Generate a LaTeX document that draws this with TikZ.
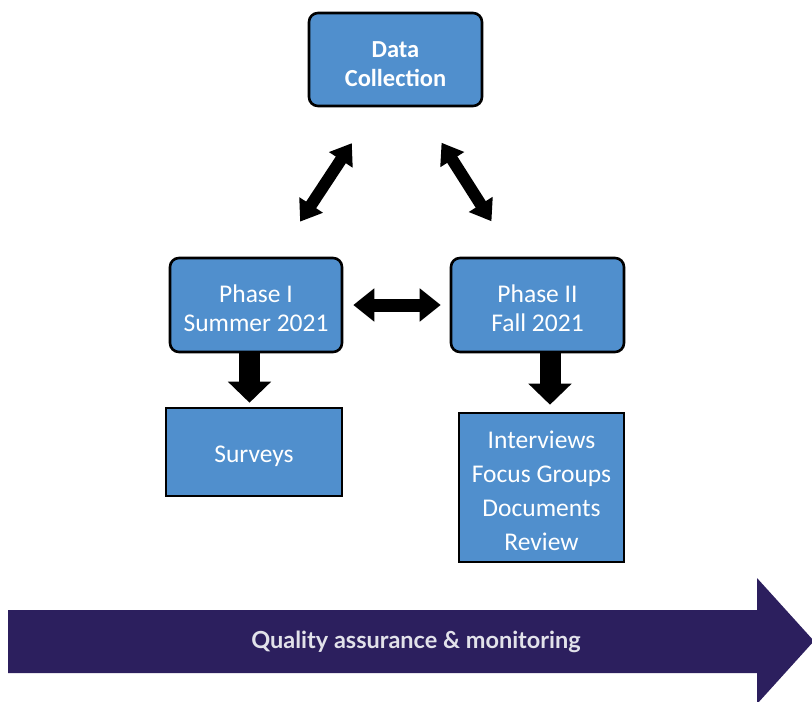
\documentclass[tikz,border=0pt]{standalone}
\usepackage{fontspec}
\setmainfont{Carlito}
\newfontfamily\bannerfont{Lato}
\usetikzlibrary{arrows.meta,calc}
\definecolor{boxblue}{RGB}{80,143,205}
\definecolor{bandpurple}{RGB}{44,31,94}
\definecolor{bandtext}{RGB}{226,226,234}
% tall strut that lowers the first line of a box label
\newcommand{\toplift}{\rule{0pt}{25pt}}

\begin{document}
\begin{tikzpicture}[x=1pt,y=-1pt,
  stage/.style={draw=black, line width=2.6pt, fill=boxblue, rounded corners=9pt,
    text=white, align=center, inner sep=0pt,
    font=\fontsize{25.5}{29}\selectfont},
  method/.style={stage, rounded corners=0pt},
  twoway/.style={line width=12pt,
    {Triangle[width=27pt,length=20pt]}-{Triangle[width=27pt,length=20pt]}},
  sideway/.style={line width=13pt,
    {Triangle[width=32pt,length=21pt]}-{Triangle[width=32pt,length=21pt]}},
  downarrow/.style={line width=21pt, -{Triangle[width=42pt,length=21pt]}},
]
\useasboundingbox (0,0) rectangle (812,702);

% stages
\node[stage, minimum width=173pt, minimum height=93pt,
  font=\bfseries\fontsize{24.5}{29}\selectfont]
  (dc) at (395.5,59.5) {\toplift Data\\Collection};
\node[stage, minimum width=172pt, minimum height=94pt] (p1) at (256,305) {\toplift Phase I\\Summer 2021};
\node[stage, minimum width=173pt, minimum height=94pt] (p2) at (537.5,305) {\toplift Phase II\\Fall 2021};

% methods
\node[method, minimum width=176pt, minimum height=88pt] (sv) at (254,452) {\toplift Surveys};
\node[method, minimum width=165pt, minimum height=149pt,
  font=\fontsize{25.5}{34}\selectfont]
  (iv) at (541.5,487.5) {\toplift Interviews\\Focus Groups\\Documents\\Review};

% links between stages
\draw[twoway, shorten <=42pt, shorten >=43pt] ([xshift=21pt]p1.north) -- ([xshift=-20pt]dc.south);
\draw[twoway, shorten <=42pt, shorten >=42pt] ([xshift=23.5pt]dc.south) -- ([xshift=-23.5pt]p2.north);
\draw[sideway, shorten <=10pt, shorten >=9pt] (p1.east) -- (p2.west);

% stage to method
\draw[downarrow, shorten >=4pt] ([xshift=-6.5pt]p1.south) -- ([xshift=-4.5pt]sv.north);
\draw[downarrow, shorten >=7pt] ([xshift=12.5pt]p2.south) -- ([xshift=8.5pt]iv.north);

% quality band
\begin{scope}
\clip (0,0) rectangle (812,702);
\fill[bandpurple] (8,610) -- (757,610) -- (757,578) -- (814,641) -- (757,704)
  -- (757,673) -- (8,673) -- cycle;
\end{scope}
\node[text=bandtext, font=\bannerfont\bfseries\fontsize{23.5}{28}\selectfont]
  (qa) at (416,642) {Quality assurance \& monitoring};
\end{tikzpicture}
\end{document}
